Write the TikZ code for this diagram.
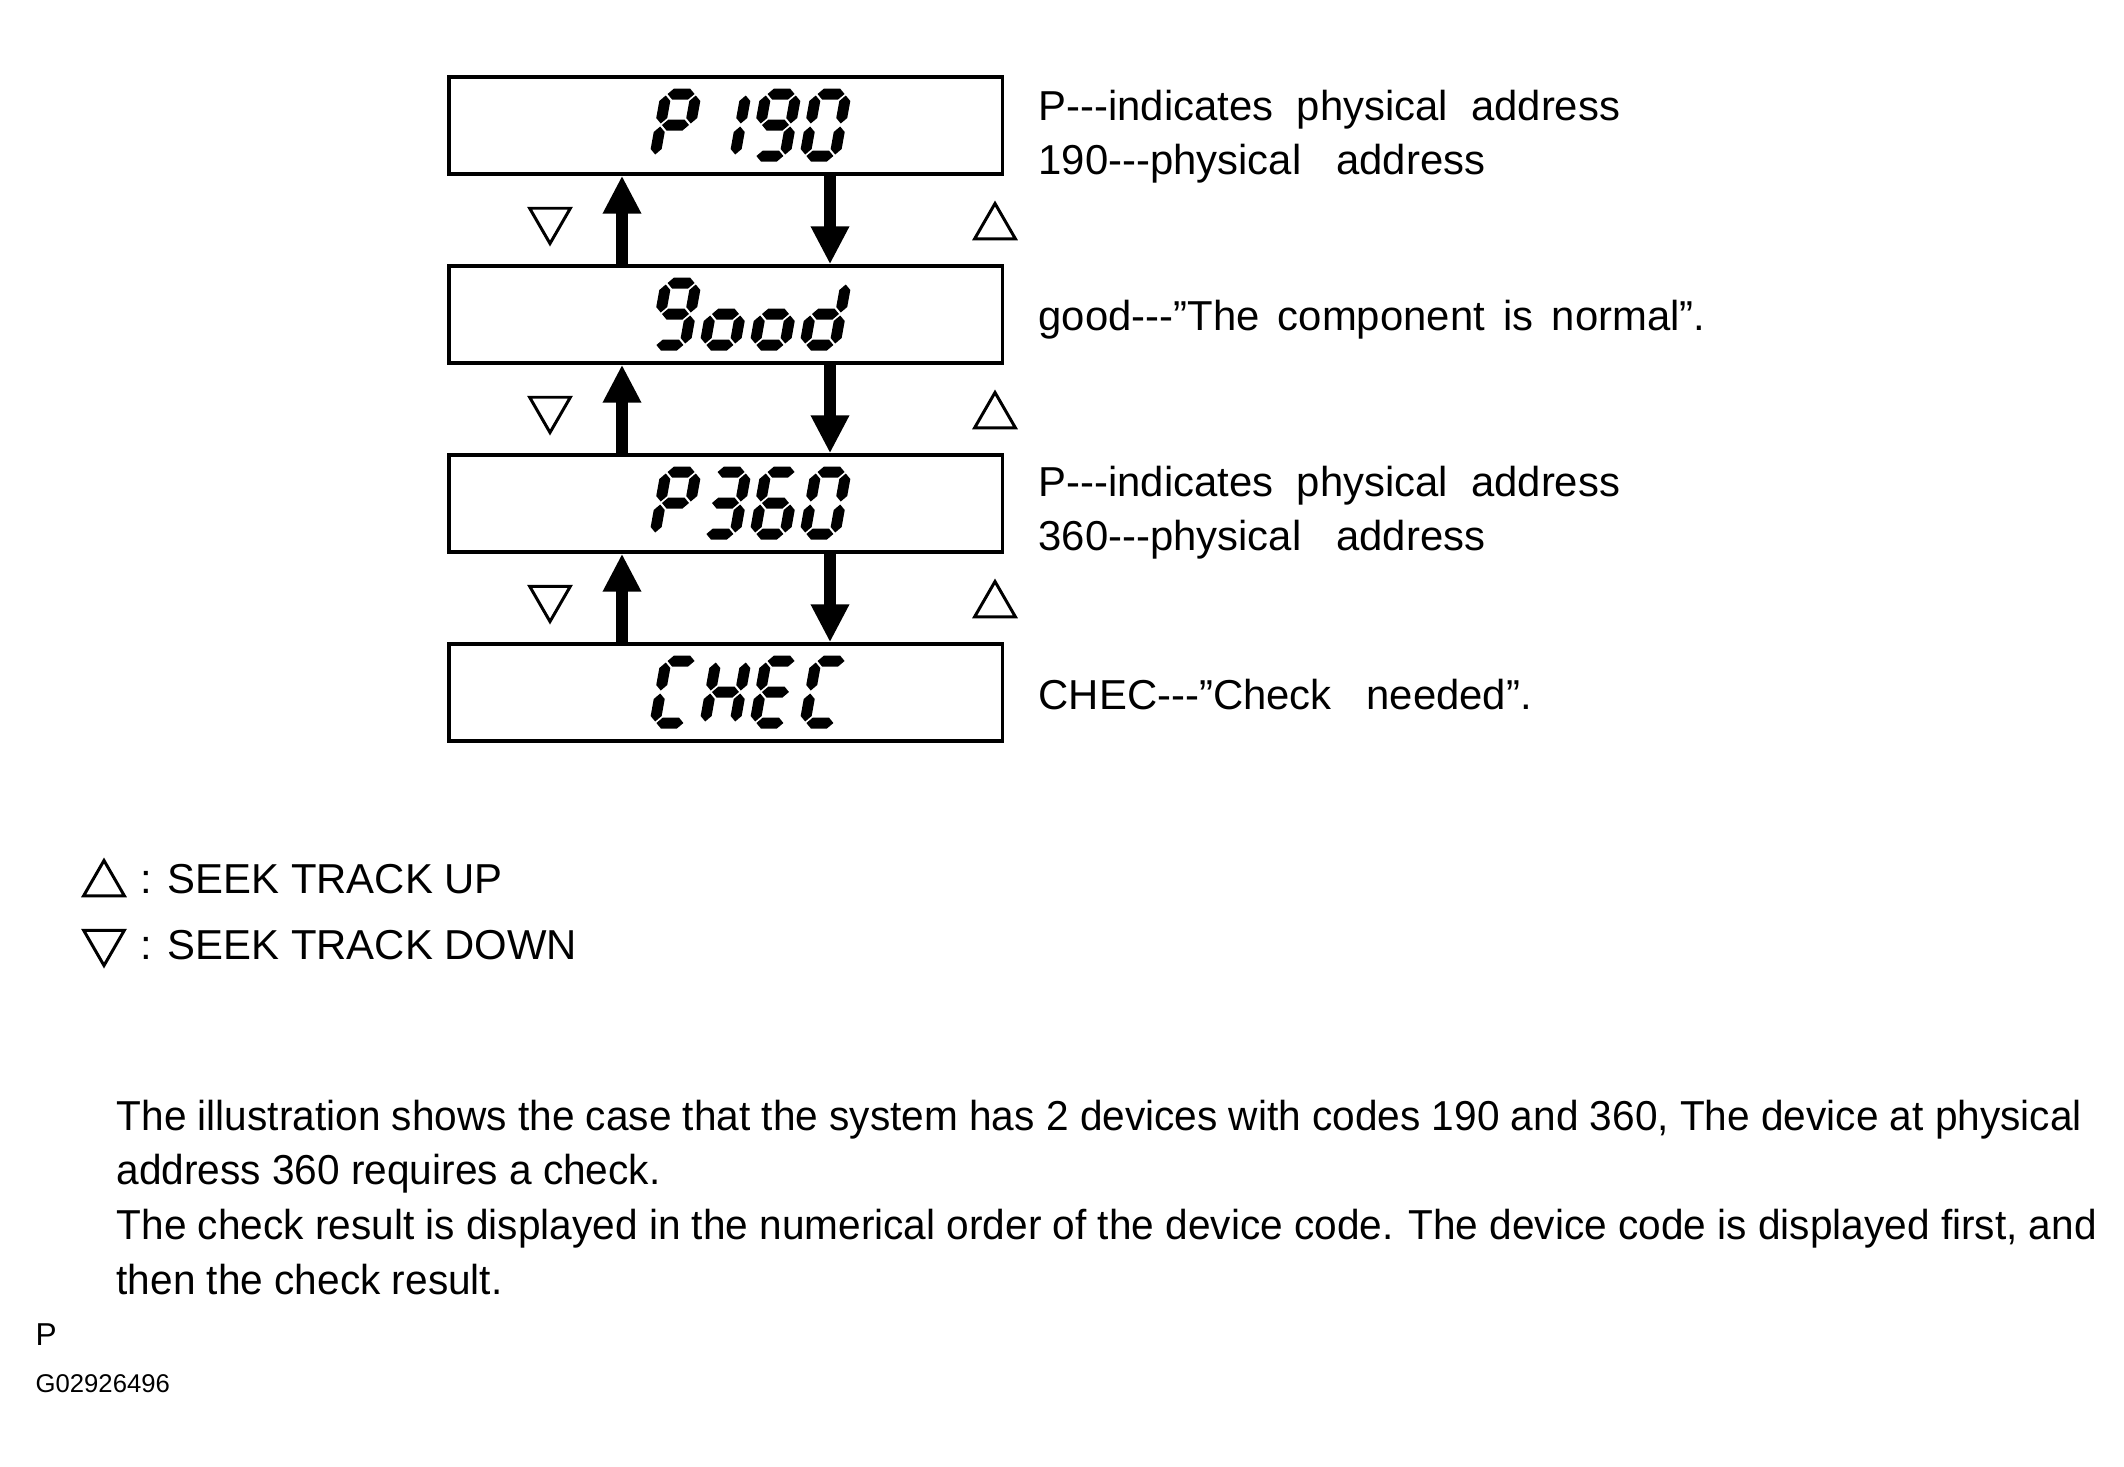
\documentclass[tikz,border=0pt]{standalone}
\usepackage{fontspec}
\setmainfont{Liberation Sans}[Ligatures=TeXOff]
\newfontfamily\parafont{Liberation Sans}[Ligatures=TeXOff, FakeStretch=0.97]
\usetikzlibrary{arrows.meta,shapes.geometric}

% one lcd segment, horizontal at height #1
\newcommand{\hseg}[1]{\fill (6.5,#1) -- (12,#1+5.5) -- (28,#1+5.5) -- (33.5,#1) -- (28,#1-5.5) -- (12,#1-5.5) -- cycle;}
% one lcd segment, vertical at #1, from #2 upwards
\newcommand{\vseg}[2]{\fill (#1,#2) -- (#1+5.5,#2+5.5) -- (#1+5.5,#2+22.5) -- (#1,#2+28) -- (#1-5.5,#2+22.5) -- (#1-5.5,#2+5.5) -- cycle;}
\newcommand{\sega}{\hseg{67}}
\newcommand{\segb}{\vseg{35}{37.5}}
\newcommand{\segc}{\vseg{35}{6.5}}
\newcommand{\segd}{\hseg{5}}
\newcommand{\sege}{\vseg{5}{6.5}}
\newcommand{\segf}{\vseg{5}{37.5}}
\newcommand{\segg}{\hseg{36}}
% a slanted lcd character: #1 lower left corner, #2 segments
\newcommand{\lcdchar}[2]{%
  \begin{scope}[shift={(#1)}, xslant=0.18, yscale=-1]
    \foreach \s in {#2} {\csname seg\s\endcsname}
  \end{scope}}

\tikzset{
  dispbox/.style={draw, line width=0.95pt, minimum width=5.53cm, minimum height=0.97cm, inner sep=0pt},
  seekarrow/.style={line width=0.12cm, -{Triangle[width=0.36cm,length=0.38cm]}},
  uptri/.style={draw, line width=0.85pt, regular polygon, regular polygon sides=3, minimum size=0.47cm, inner sep=0pt},
  downtri/.style={uptri, shape border rotate=180},
  note/.style={anchor=base west, inner sep=0pt, font=\fontsize{11.9}{15}\selectfont},
  para/.style={note, font=\parafont\fontsize{11.9}{15}\selectfont},
}

\begin{document}
\begin{tikzpicture}[x=0.01cm, y=-0.01cm]
\useasboundingbox (0,0) rectangle (2124,1466);

\coordinate (upcol) at (622,0);
\coordinate (downcol) at (830,0);

\node [dispbox] (disp1) at (725.5,125.5) {};
\node [dispbox] (disp2) at (725.5,314.5) {};
\node [dispbox] (disp3) at (725.5,503.5) {};
\node [dispbox] (disp4) at (725.5,692.5) {};

% P 190
\lcdchar{649,161}{a,b,e,f,g}
\lcdchar{699,161}{b,c}
\lcdchar{749,161}{a,b,c,d,f,g}
\lcdchar{799,161}{a,b,c,d,e,f}
% good
\lcdchar{649,350}{a,b,c,d,f,g}
\lcdchar{699,350}{c,d,e,g}
\lcdchar{749,350}{c,d,e,g}
\lcdchar{799,350}{b,c,d,e,g}
% P360
\lcdchar{649,539}{a,b,e,f,g}
\lcdchar{699,539}{a,b,c,d,g}
\lcdchar{749,539}{a,c,d,e,f,g}
\lcdchar{799,539}{a,b,c,d,e,f}
% CHEC
\lcdchar{649,728}{a,d,e,f}
\lcdchar{699,728}{b,c,e,f,g}
\lcdchar{749,728}{a,d,e,f,g}
\lcdchar{799,728}{a,d,e,f}

\draw [seekarrow] (disp2.north -| upcol) -- (disp1.south -| upcol);
\draw [seekarrow] (disp3.north -| upcol) -- (disp2.south -| upcol);
\draw [seekarrow] (disp4.north -| upcol) -- (disp3.south -| upcol);
\draw [seekarrow] (disp1.south -| downcol) -- (disp2.north -| downcol);
\draw [seekarrow] (disp2.south -| downcol) -- (disp3.north -| downcol);
\draw [seekarrow] (disp3.south -| downcol) -- (disp4.north -| downcol);

\node [downtri] (down1) at (550,220) {};
\node [downtri] (down2) at (550,409) {};
\node [downtri] (down3) at (550,598) {};
\node [uptri] (up1) at (995,227) {};
\node [uptri] (up2) at (995,416) {};
\node [uptri] (up3) at (995,605) {};

\node [note] (note1) at (1038,120) {P---indicates~ physical~ address};
\node [note] (note2) at (1038,174) {190---physical~~ address};
\node [note] (note3) at (1038,330) {good---”The \hspace{0.16em}component \hspace{0.16em}is \hspace{0.16em}normal”.};
\node [note] (note4) at (1038,496) {P---indicates~ physical~ address};
\node [note] (note5) at (1038,550) {360---physical~~ address};
\node [note] (note6) at (1038,709) {CHEC---”Check~~ needed”.};

\node [uptri] (keyup) at (104,884) {};
\node [downtri] (keydown) at (104,942) {};
\node [note] (keyuptext) at (140,893) {: SEEK TRACK UP};
\node [note] (keydowntext) at (140,959) {: SEEK TRACK DOWN};

\node [para] (para1) at (116,1130) {The illustration shows the case that the system has 2 devices with codes 190 and 360, The device at physical};
\node [para] (para2) at (116,1184) {address 360 requires a check.};
\node [para] (para3) at (116,1239) {The check result is displayed in the numerical order of the device code. The device code is displayed first, and};
\node [para] (para4) at (116,1294) {then the check result.};

\node [note, font=\fontsize{9}{9}\selectfont] (pmark) at (35,1345) {P};
\node [note, font=\fontsize{7.3}{7.3}\selectfont] (figno) at (35,1392) {G02926496};
\end{tikzpicture}
\end{document}
